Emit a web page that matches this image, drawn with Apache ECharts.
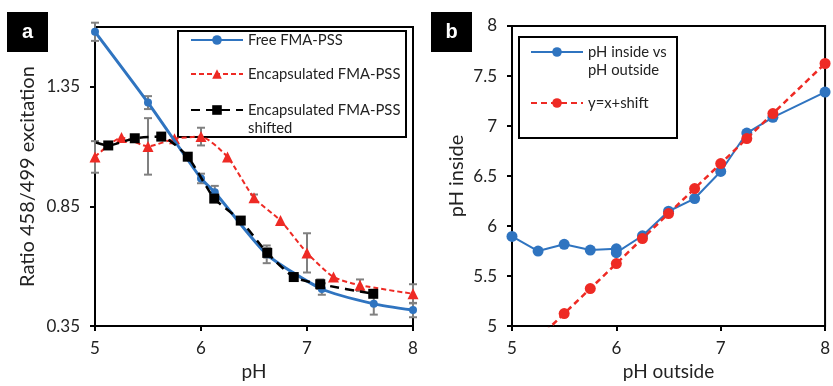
<!DOCTYPE html>
<html>
<head>
<meta charset="utf-8">
<script src="https://cdn.jsdelivr.net/npm/echarts@6/dist/echarts.min.js"></script>
<style>html,body{margin:0;padding:0;background:#fff}#c{width:833px;height:386px}</style>
</head>
<body>
<div id="c"></div>
<script>
// ---------- Panel a data ----------
const aXTicks = [5, 6, 7, 8];
const aYTicks = [0.35, 0.85, 1.35];
const freeX = [5, 5.5, 6, 6.13, 6.62, 7.14, 7.63, 8];
const freeY = [1.58, 1.284, 0.967, 0.909, 0.65, 0.505, 0.443, 0.417];
const freeErr = [0.038, 0.027, 0.02, 0.027, 0.037, 0.024, 0.045, 0.03];
const encX = [5, 5.25, 5.5, 5.75, 6, 6.25, 6.5, 6.75, 7, 7.25, 7.5, 8];
const encY = [1.057, 1.138, 1.101, 1.133, 1.142, 1.057, 0.886, 0.791, 0.656, 0.555, 0.521, 0.485];
const encErr = [0.066, 0, 0.118, 0, 0.037, 0, 0.014, 0, 0.082, 0, 0.024, 0.04];
const shX = [4.875, 5.125, 5.375, 5.625, 5.875, 6.125, 6.375, 6.625, 6.875, 7.125, 7.625];
const shY = [1.138, 1.105, 1.135, 1.142, 1.058, 0.883, 0.791, 0.656, 0.555, 0.525, 0.485];
const shErr = [0, 0, 0, 0.015, 0, 0.015, 0, 0.02, 0, 0.02, 0];
// ---------- Panel b data ----------
const bXTicks = [5, 6, 7, 8];
const bYTicks = [5, 5.5, 6, 6.5, 7, 7.5, 8];
const inX = [5, 5.25, 5.5, 5.75, 6, 6, 6.25, 6.5, 6.75, 7, 7.25, 7.5, 8];
const inY = [5.896, 5.75, 5.818, 5.76, 5.773, 5.734, 5.903, 6.148, 6.275, 6.546, 6.93, 7.087, 7.339];
const lineX = [5.25, 5.5, 5.75, 6, 6.25, 6.5, 6.75, 7, 7.25, 7.5, 8];
const lineY = [4.875, 5.125, 5.375, 5.625, 5.875, 6.125, 6.375, 6.625, 6.875, 7.125, 7.625];

const FONT = 'Lato, "Liberation Sans", sans-serif';
const BLUE = '#2f74c0', RED = '#ee2a24', GREY = '#808080';
const zip = (xs, ys) => xs.map((x, i) => [x, ys[i]]);
const zip3 = (xs, ys, es) => xs.map((x, i) => [x, ys[i], es[i]]);

function errRender(params, api) {
  const x = api.value(0), y = api.value(1), e = api.value(2);
  if (!e) return null;
  const t = api.coord([x, y + e]), b = api.coord([x, y - e]);
  const w = 4, st = { stroke: GREY, lineWidth: 2 };
  return { type: 'group', children: [
    { type: 'line', shape: { x1: t[0], y1: t[1], x2: b[0], y2: b[1] }, style: st },
    { type: 'line', shape: { x1: t[0] - w, y1: t[1], x2: t[0] + w, y2: t[1] }, style: st },
    { type: 'line', shape: { x1: b[0] - w, y1: b[1], x2: b[0] + w, y2: b[1] }, style: st }
  ]};
}

function xAxis(idx, ticks, name) {
  return {
    type: 'value', gridIndex: idx, min: 5, max: 8, interval: 1,
    name: name, nameLocation: 'middle', nameGap: 29,
    nameTextStyle: { fontFamily: FONT, fontSize: 19, color: '#222' },
    axisLine: { show: true, lineStyle: { color: '#000', width: 2 } },
    axisTick: { show: true, length: 5, inside: false, lineStyle: { color: '#000', width: 2 }, customValues: ticks },
    axisLabel: { fontFamily: FONT, fontSize: 17, color: '#222', margin: 14, customValues: ticks },
    splitLine: { show: false }
  };
}
function yAxis(idx, min, max, ticks, name, gap) {
  return {
    type: 'value', gridIndex: idx, min: min, max: max,
    name: name, nameLocation: 'middle', nameGap: gap,
    nameTextStyle: { fontFamily: FONT, fontSize: 20, color: '#222' },
    axisLine: { show: true, lineStyle: { color: '#000', width: 2 } },
    axisTick: { show: true, length: 5, inside: false, lineStyle: { color: '#000', width: 2 }, customValues: ticks },
    axisLabel: { fontFamily: FONT, fontSize: 17, color: '#222', margin: 15, customValues: ticks },
    splitLine: { show: false }
  };
}

const legText = { fontFamily: FONT, fontSize: 14.8, color: '#222', lineHeight: 18 };
function leg(name, left, top, w, fmt) {
  const o = {
    data: [name], left: left, top: top, padding: 0, itemWidth: w, itemHeight: 12,
    textStyle: Object.assign({}, legText), selectedMode: false
  };
  if (fmt) o.formatter = fmt;
  return o;
}

const chart = echarts.init(document.getElementById('c'), null, { renderer: 'canvas' });
chart.setOption({
  animation: false,
  backgroundColor: '#fff',
  grid: [
    { left: 95, top: 27, width: 318, height: 310, show: true, borderColor: '#000', borderWidth: 2, backgroundColor: 'transparent' },
    { left: 512, top: 26, width: 318, height: 306, show: true, borderColor: '#000', borderWidth: 2, backgroundColor: 'transparent' }
  ],
  xAxis: [ xAxis(0, aXTicks, 'pH'), xAxis(1, bXTicks, 'pH outside') ],
  yAxis: [ yAxis(0, 0.35, 1.6, aYTicks, 'Ratio 458/499 excitation', 57),
           yAxis(1, 5, 8, bYTicks, 'pH inside', 45) ],
  legend: [
    leg('Free FMA-PSS', 190, 31, 52),
    leg('Encapsulated FMA-PSS', 190, 65, 52),
    leg('Encapsulated FMA-PSS shifted', 190, 83, 52, () => ' \nEncapsulated FMA-PSS\nshifted'),
    leg('pH inside vs pH outside', 530, 25, 52, () => ' \npH inside vs\npH outside'),
    leg('y=x+shift', 530, 94, 52)
  ],
  graphic: [
    { type: 'rect', shape: { x: 7, y: 12, width: 41, height: 40 }, style: { fill: '#000' } },
    { type: 'text', x: 27.5, y: 32, style: { text: 'a', fill: '#fff', font: 'bold 20px "Liberation Sans", sans-serif', align: 'center', verticalAlign: 'middle' } },
    { type: 'rect', shape: { x: 431, y: 12, width: 41, height: 40 }, style: { fill: '#000' } },
    { type: 'text', x: 451.5, y: 32, style: { text: 'b', fill: '#fff', font: 'bold 20px "Liberation Sans", sans-serif', align: 'center', verticalAlign: 'middle' } },
    { type: 'rect', shape: { x: 178, y: 31, width: 228, height: 106 }, style: { fill: 'none', stroke: '#000', lineWidth: 2 } },
    { type: 'rect', shape: { x: 519, y: 37, width: 158, height: 101 }, style: { fill: 'none', stroke: '#000', lineWidth: 2 } }
  ],
  series: [
    { type: 'custom', xAxisIndex: 0, yAxisIndex: 0, renderItem: errRender, data: zip3(freeX, freeY, freeErr), z: 1, silent: true },
    { type: 'custom', xAxisIndex: 0, yAxisIndex: 0, renderItem: errRender, data: zip3(encX, encY, encErr), z: 1, silent: true },
    { type: 'custom', xAxisIndex: 0, yAxisIndex: 0, renderItem: errRender, data: zip3(shX, shY, shErr), z: 1, silent: true },
    { name: 'Free FMA-PSS', type: 'line', xAxisIndex: 0, yAxisIndex: 0, data: zip(freeX, freeY), smooth: 0.2,
      symbol: 'circle', symbolSize: 8, clip: true, z: 4,
      lineStyle: { color: BLUE, width: 3 }, itemStyle: { color: BLUE } },
    { name: 'Encapsulated FMA-PSS', type: 'line', xAxisIndex: 0, yAxisIndex: 0, data: zip(encX, encY), smooth: 0.2,
      symbol: 'triangle', symbolSize: 11, clip: true, z: 3,
      lineStyle: { color: RED, width: 2, type: [5, 3] }, itemStyle: { color: RED } },
    { name: 'Encapsulated FMA-PSS shifted', type: 'line', xAxisIndex: 0, yAxisIndex: 0, data: zip(shX, shY), smooth: 0.2,
      symbol: 'rect', symbolSize: 10, clip: true, z: 5,
      lineStyle: { color: '#000', width: 2.5, type: [9, 6] }, itemStyle: { color: '#000' } },
    { name: 'pH inside vs pH outside', type: 'line', xAxisIndex: 1, yAxisIndex: 1, data: zip(inX, inY),
      symbol: 'circle', symbolSize: 11, clip: true, z: 3,
      lineStyle: { color: BLUE, width: 2 }, itemStyle: { color: BLUE } },
    { name: 'y=x+shift', type: 'line', xAxisIndex: 1, yAxisIndex: 1, data: zip(lineX, lineY),
      symbol: 'circle', symbolSize: 11, clip: true, z: 4,
      lineStyle: { color: RED, width: 2.5, type: [6, 4] }, itemStyle: { color: RED } }
  ]
});
</script>
</body>
</html>
